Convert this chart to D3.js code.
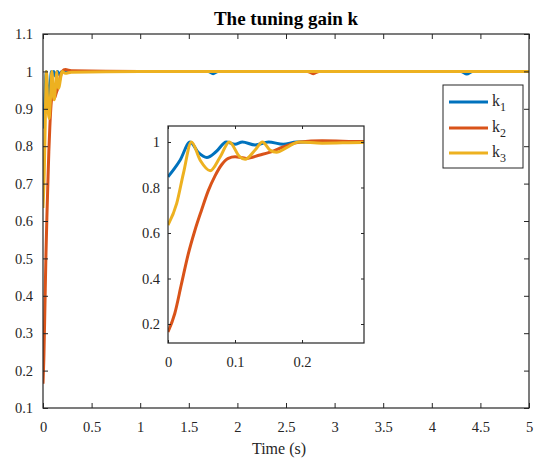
<!DOCTYPE html>
<html>
<head>
<meta charset="utf-8">
<script src="https://cdn.jsdelivr.net/npm/d3@7"></script>
<style>
  html, body { margin: 0; padding: 0; background: #fff; }
  svg { display: block; font-family: "Liberation Serif", "Times New Roman", serif; }
</style>
</head>
<body>
<svg id="chart" width="537" height="462"></svg>
<script>
// Tuning gains k1, k2, k3 over time (s)
const seriesNames = ["k1", "k2", "k3"];
const seriesColors = ["#0072BD", "#D95319", "#EDB120"];

const k1Time  = [0, 0.01, 0.018, 0.033, 0.045, 0.058, 0.072, 0.087, 0.1, 0.111, 0.13, 0.15, 0.172, 0.192, 0.25, 1.0, 1.7, 1.75, 1.8, 2.5, 3.5, 4.3, 4.36, 4.42, 5];
const k1Value = [0.847, 0.885, 0.92, 1.0, 0.955, 0.932, 0.958, 1.0, 0.99, 1.0, 0.987, 1.0, 0.99, 1.0, 1.0, 1.0, 1.0, 0.994, 1.0, 1.0, 1.0, 1.0, 0.993, 1.0, 1.0];

const k2Time  = [0, 0.01, 0.02, 0.03, 0.04, 0.05, 0.06, 0.07, 0.08, 0.09, 0.1, 0.117, 0.137, 0.15, 0.172, 0.197, 0.23, 0.29, 1.0, 2.72, 2.78, 2.84, 5];
const k2Value = [0.165, 0.245, 0.375, 0.505, 0.61, 0.7, 0.785, 0.85, 0.9, 0.928, 0.935, 0.928, 0.943, 0.953, 0.978, 1.0, 1.005, 1.002, 1.0, 1.0, 0.994, 1.0, 1.0];

const k3Time  = [0, 0.013, 0.023, 0.035, 0.048, 0.063, 0.078, 0.0915, 0.107, 0.115, 0.13, 0.141, 0.152, 0.162, 0.177, 0.195, 0.23, 0.29, 1.0, 5];
const k3Value = [0.635, 0.73, 0.862, 1.0, 0.92, 0.874, 0.935, 1.0, 0.935, 0.924, 0.965, 1.0, 0.965, 0.955, 0.975, 1.0, 0.995, 0.998, 1.0, 1.0];

const seriesTimes  = [k1Time, k2Time, k3Time];
const seriesValues = [k1Value, k2Value, k3Value];

// Axis ticks and labels
const mainXTicks  = [0, 0.5, 1, 1.5, 2, 2.5, 3, 3.5, 4, 4.5, 5];
const mainXLabels = ["0", "0.5", "1", "1.5", "2", "2.5", "3", "3.5", "4", "4.5", "5"];
const mainYTicks  = [0.1, 0.2, 0.3, 0.4, 0.5, 0.6, 0.7, 0.8, 0.9, 1, 1.1];
const mainYLabels = ["0.1", "0.2", "0.3", "0.4", "0.5", "0.6", "0.7", "0.8", "0.9", "1", "1.1"];
const insetXTicks  = [0, 0.1, 0.2];
const insetXLabels = ["0", "0.1", "0.2"];
const insetYTicks  = [0.2, 0.4, 0.6, 0.8, 1];
const insetYLabels = ["0.2", "0.4", "0.6", "0.8", "1"];

const titleText = "The tuning gain k";
const xLabelText = "Time (s)";

const svg = d3.select("#chart");
const axisColor = "#262626";

const data = seriesNames.map((name, i) => ({
  name,
  color: seriesColors[i],
  points: seriesTimes[i].map((t, j) => [t, seriesValues[i][j]])
}));

function drawAxes(g, x, y, xTicks, xLabels, yTicks, yLabels, tick, xPad, yPad, fontSize, clipId) {
  const [x0, x1] = x.range();
  const [y0, y1] = y.range(); // y0 bottom, y1 top

  g.append("rect")
    .attr("x", x0).attr("y", y1)
    .attr("width", x1 - x0).attr("height", y0 - y1)
    .attr("fill", "#fff");

  g.append("clipPath").attr("id", clipId)
    .append("rect")
    .attr("x", x0).attr("y", y1)
    .attr("width", x1 - x0).attr("height", y0 - y1);

  const line = d3.line()
    .x(d => x(d[0]))
    .y(d => y(d[1]))
    .curve(d3.curveMonotoneX);

  g.append("g").attr("clip-path", `url(#${clipId})`)
    .selectAll("path")
    .data(data)
    .join("path")
    .attr("d", d => line(d.points))
    .attr("fill", "none")
    .attr("stroke", d => d.color)
    .attr("stroke-width", 3)
    .attr("stroke-linejoin", "round");

  const fmtX = d => xLabels[xTicks.indexOf(d)];
  const fmtY = d => yLabels[yTicks.indexOf(d)];

  const bottom = g.append("g").attr("transform", `translate(0,${y0})`)
    .call(d3.axisBottom(x).tickValues(xTicks).tickFormat(fmtX).tickSize(-tick).tickPadding(xPad));
  const top = g.append("g").attr("transform", `translate(0,${y1})`)
    .call(d3.axisTop(x).tickValues(xTicks).tickFormat("").tickSize(-tick));
  const left = g.append("g").attr("transform", `translate(${x0},0)`)
    .call(d3.axisLeft(y).tickValues(yTicks).tickFormat(fmtY).tickSize(-tick).tickPadding(yPad));
  const right = g.append("g").attr("transform", `translate(${x1},0)`)
    .call(d3.axisRight(y).tickValues(yTicks).tickFormat("").tickSize(-tick));

  [bottom, top, left, right].forEach(a => {
    a.select(".domain").remove();
    a.selectAll("line").attr("stroke", axisColor).attr("stroke-width", 1);
    a.selectAll("text")
      .attr("fill", axisColor)
      .style("font-family", '"Liberation Serif", "Times New Roman", serif')
      .style("font-size", fontSize + "px");
  });

  g.append("rect")
    .attr("x", x0).attr("y", y1)
    .attr("width", x1 - x0).attr("height", y0 - y1)
    .attr("fill", "none")
    .attr("stroke", axisColor)
    .attr("stroke-width", 1.2);
}

// Main axes
const xMain = d3.scaleLinear().domain([0, 5]).range([43, 529]);
const yMain = d3.scaleLinear().domain([0.1, 1.1]).range([408, 34]);
drawAxes(svg.append("g"), xMain, yMain, mainXTicks, mainXLabels, mainYTicks, mainYLabels, 5, 14, 10, 14.5, "clip-main");

// Inset zoom on the first 0.29 s
const xInset = d3.scaleLinear().domain([0, 0.2925]).range([168, 364]);
const yInset = d3.scaleLinear().domain([0.1165, 1.0703]).range([343, 126]);
drawAxes(svg.append("g"), xInset, yInset, insetXTicks, insetXLabels, insetYTicks, insetYLabels, 3, 14, 8, 14.5, "clip-inset");

// Title and axis label
svg.append("text")
  .attr("x", 286).attr("y", 25)
  .attr("text-anchor", "middle")
  .attr("font-weight", "bold")
  .attr("font-size", 19)
  .attr("fill", "#000")
  .text(titleText);

svg.append("text")
  .attr("x", 279).attr("y", 454)
  .attr("text-anchor", "middle")
  .attr("font-size", 16)
  .attr("fill", axisColor)
  .text(xLabelText);

// Legend
const legend = svg.append("g");
legend.append("rect")
  .attr("x", 443).attr("y", 85)
  .attr("width", 80).attr("height", 83)
  .attr("fill", "#fff")
  .attr("stroke", axisColor)
  .attr("stroke-width", 1);

const rowY = [102, 128, 153];
data.forEach((d, i) => {
  legend.append("line")
    .attr("x1", 449).attr("x2", 488)
    .attr("y1", rowY[i]).attr("y2", rowY[i])
    .attr("stroke", d.color)
    .attr("stroke-width", 3);
  const t = legend.append("text")
    .attr("x", 492).attr("y", rowY[i] + 4)
    .attr("font-size", 16)
    .attr("fill", axisColor);
  t.append("tspan").text(d.name.charAt(0));
  t.append("tspan").attr("dy", 5).attr("font-size", 12).text(d.name.slice(1));
});
</script>
</body>
</html>
